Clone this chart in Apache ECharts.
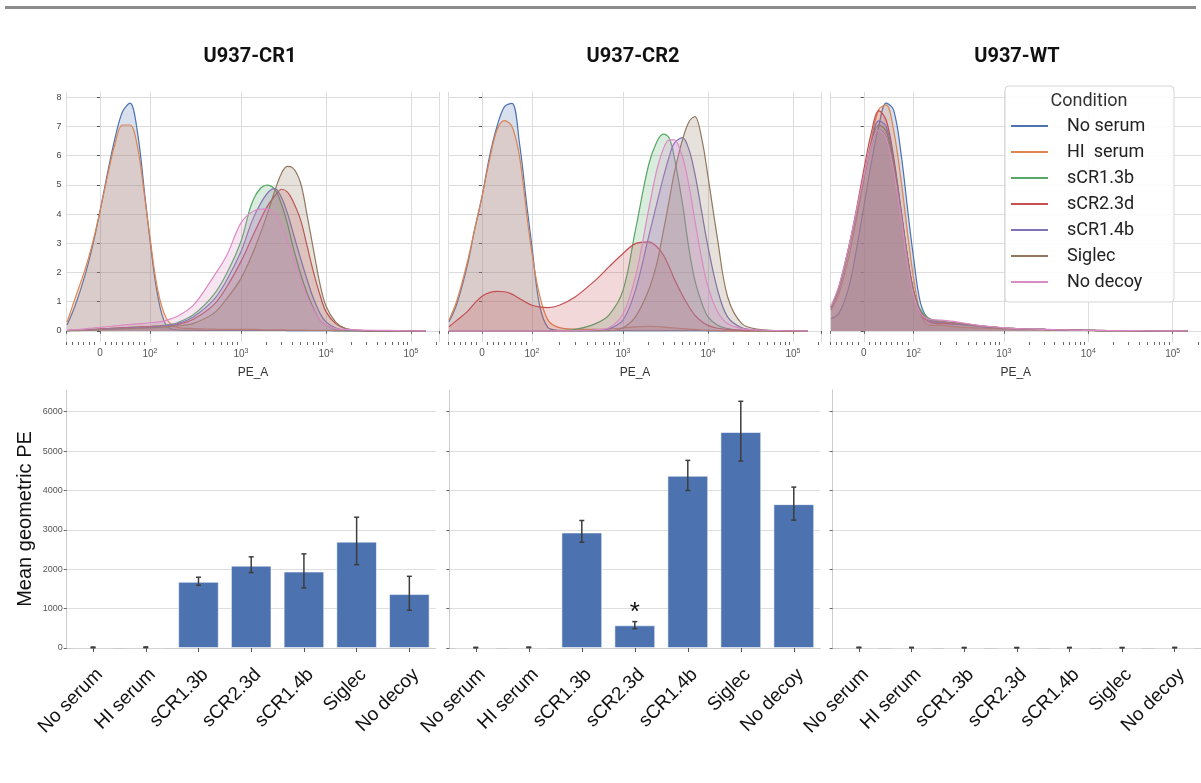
<!DOCTYPE html>
<html><head><meta charset="utf-8">
<script src="https://cdn.jsdelivr.net/npm/echarts@6/dist/echarts.min.js"></script>
<style>html,body{margin:0;padding:0;background:#fff}#chart{width:1201px;height:783px}</style>
</head><body><div id="chart"></div>
<script>
// ---------- DATA ----------
const panelTitles = ['U937-CR1', 'U937-CR2', 'U937-WT'];
const legendNames = ['No serum', 'HI  serum', 'sCR1.3b', 'sCR2.3d', 'sCR1.4b', 'Siglec', 'No decoy'];
const categories = ['No serum', 'HI serum', 'sCR1.3b', 'sCR2.3d', 'sCR1.4b', 'Siglec', 'No decoy'];

// PE_A sample points (fluorescence units) for density curves
const pe_grid = [-66,-50,-30,-15,0,15,30,45,60,75,90,100,120,150,200,300,500,700,1000,1400,2000,2500,3000,3500,4000,5000,6000,7000,8500,10000,13000,17000,25000,40000,70000,150000];

// x-axis tick values (PE units) and labels
const xTickPE = [0, 100, 1000, 10000, 100000];
const xTickLabels = ['0', '10{sup|2}', '10{sup|3}', '10{sup|4}', '10{sup|5}'];
const xMinorPE = [-66.7,-55.6,-44.4,-33.3,-22.2,-11.1,11.1,22.2,33.3,44.4,55.6,66.7,77.8,88.9,
  200,300,400,500,600,700,800,900,2000,3000,4000,5000,6000,7000,8000,9000,
  20000,30000,40000,50000,60000,70000,80000,90000,200000];
const yTopTicks = [0,1,2,3,4,5,6,7,8];
const yBotTicks = [0,1000,2000,3000,4000,5000,6000];

// Density curves, U937-CR1
const cr1_noserum = [0.2,0.85,1.9,2.9,4.1,5.4,6.6,7.5,7.8,6.8,4.6,3.1,1.3,0.2,0.03,0.02,0.02,0.02,0.02,0.02,0.02,0.02,0.02,0.01,0.01,0.01,0.01,0.01,0.01,0.01,0,0,0,0,0,0];
const cr1_hiserum = [0.3,1.1,2.1,3.0,4.1,5.3,6.4,7.05,7.05,6.3,4.5,3.2,1.5,0.45,0.12,0.08,0.06,0.05,0.05,0.05,0.04,0.04,0.04,0.03,0.03,0.03,0.02,0.02,0.02,0.02,0.01,0.01,0,0,0,0];
const cr1_scr13b = [0.01,0.02,0.03,0.05,0.06,0.08,0.09,0.1,0.12,0.13,0.14,0.15,0.17,0.2,0.28,0.55,1.23,1.98,3.07,4.5,4.99,4.85,4.33,3.7,3.0,1.98,1.29,0.83,0.37,0.2,0.05,0.02,0.01,0,0,0];
const cr1_scr23d = [0.01,0.02,0.03,0.05,0.07,0.08,0.1,0.11,0.12,0.13,0.14,0.15,0.16,0.18,0.22,0.4,0.89,1.52,2.38,3.3,4.22,4.62,4.85,4.76,4.5,3.82,2.9,2.1,1.23,0.66,0.25,0.08,0.02,0,0,0];
const cr1_scr14b = [0.01,0.02,0.03,0.04,0.05,0.07,0.08,0.09,0.1,0.11,0.12,0.13,0.15,0.18,0.25,0.48,1.06,1.75,2.72,3.87,4.68,4.87,4.56,4.05,3.47,2.5,1.75,1.17,0.6,0.31,0.1,0.03,0.01,0,0,0];
const cr1_siglec = [0.01,0.01,0.02,0.03,0.04,0.05,0.06,0.07,0.08,0.09,0.1,0.11,0.12,0.14,0.17,0.26,0.6,1.11,1.8,2.72,3.93,4.8,5.4,5.63,5.6,5.08,3.95,2.9,1.6,0.85,0.3,0.08,0.02,0,0,0];
const cr1_nodecoy = [0.02,0.04,0.07,0.1,0.12,0.15,0.17,0.2,0.22,0.24,0.26,0.28,0.3,0.36,0.5,0.88,1.86,2.6,3.7,4.1,4.18,4.0,3.6,3.1,2.6,1.75,1.17,0.77,0.37,0.2,0.08,0.05,0.03,0.02,0.01,0];

// Density curves, U937-CR2
const cr2_noserum = [0.31,0.94,2.2,3.45,4.6,5.97,7.0,7.68,7.79,6.42,4.25,2.88,0.94,0.11,0.02,0.01,0.01,0.01,0.01,0.01,0.01,0.01,0.01,0.01,0.01,0.01,0.01,0.01,0.01,0,0,0,0,0,0,0];
const cr2_hiserum = [0.37,1.05,2.31,3.45,4.6,5.85,6.88,7.2,7.0,5.97,3.9,2.65,1.28,0.37,0.11,0.06,0.05,0.07,0.1,0.14,0.16,0.15,0.13,0.11,0.1,0.08,0.06,0.05,0.03,0.02,0.01,0,0,0,0,0];
const cr2_scr13b = [0,0,0,0,0,0,0,0,0,0,0,0,0,0,0.01,0.05,0.25,0.54,1.39,3.45,5.68,6.48,6.74,6.6,5.97,4.37,2.77,1.74,0.94,0.48,0.19,0.08,0.02,0.01,0,0];
const cr2_scr23d = [0.14,0.37,0.65,0.94,1.19,1.31,1.35,1.34,1.26,1.11,0.96,0.88,0.82,0.8,0.88,1.17,1.74,2.19,2.65,2.99,3.05,2.88,2.59,2.19,1.79,1.22,0.82,0.54,0.31,0.19,0.09,0.05,0.02,0.01,0,0];
const cr2_scr14b = [0,0,0,0,0,0,0,0,0,0,0,0,0,0,0,0.01,0.01,0.07,0.37,1.39,3.22,4.37,5.28,5.97,6.42,6.62,6.19,5.39,4.02,2.88,1.39,0.48,0.11,0.03,0.01,0];
const cr2_siglec = [0,0,0,0,0,0,0,0,0,0,0,0,0,0,0,0,0.01,0.01,0.11,0.48,1.39,2.31,3.45,4.48,5.39,6.54,7.17,7.34,6.54,5.28,3.11,1.17,0.25,0.05,0.01,0];
const cr2_nodecoy = [0,0,0,0,0,0,0,0,0,0,0,0,0,0,0,0.01,0.04,0.11,0.59,1.85,4.14,5.51,6.25,6.54,6.54,5.97,4.94,3.79,2.42,1.51,0.65,0.25,0.08,0.03,0.01,0];

// Density curves, U937-WT
const wt_noserum = [0.42,0.6,1.5,2.77,4.25,5.74,7.0,7.8,7.57,6.08,3.91,2.54,0.94,0.37,0.27,0.23,0.16,0.11,0.09,0.07,0.06,0.05,0.05,0.04,0.04,0.03,0.03,0.03,0.02,0.02,0.01,0.01,0.01,0,0,0];
const wt_hiserum = [0.71,1.28,2.54,3.79,5.17,6.54,7.57,7.74,6.88,5.17,3.11,1.85,0.59,0.19,0.19,0.14,0.1,0.08,0.07,0.05,0.05,0.04,0.04,0.03,0.03,0.03,0.02,0.02,0.02,0.01,0.01,0.01,0,0,0,0];
const wt_scr13b = [0.82,1.5,2.88,4.02,5.22,6.31,6.9,6.65,5.62,4.02,2.31,1.39,0.71,0.42,0.34,0.25,0.18,0.14,0.1,0.08,0.06,0.05,0.05,0.04,0.04,0.03,0.03,0.03,0.02,0.02,0.01,0.01,0.01,0,0,0];
const wt_scr23d = [0.82,1.5,2.88,4.14,5.51,6.77,7.54,7.22,5.97,4.14,2.31,1.39,0.59,0.31,0.25,0.25,0.18,0.14,0.1,0.07,0.06,0.05,0.05,0.04,0.04,0.03,0.03,0.03,0.02,0.02,0.01,0.01,0.01,0,0,0];
const wt_scr14b = [0.76,1.45,2.83,4.02,5.28,6.42,7.19,7.0,5.85,4.14,2.31,1.39,0.65,0.37,0.3,0.27,0.19,0.14,0.1,0.08,0.06,0.05,0.05,0.04,0.04,0.03,0.03,0.03,0.02,0.02,0.01,0.01,0.01,0,0,0];
const wt_siglec = [0.8,1.48,2.85,4.05,5.25,6.4,7.05,6.85,5.75,4.05,2.3,1.38,0.66,0.4,0.32,0.27,0.19,0.14,0.1,0.08,0.06,0.05,0.05,0.04,0.04,0.03,0.03,0.03,0.02,0.02,0.02,0.01,0.01,0.01,0,0];
const wt_nodecoy = [0.85,1.55,2.9,4.1,5.3,6.35,6.88,6.6,5.5,3.9,2.1,1.25,0.6,0.4,0.37,0.31,0.2,0.15,0.11,0.08,0.07,0.06,0.05,0.05,0.04,0.04,0.03,0.03,0.02,0.02,0.02,0.01,0.01,0.01,0,0];

// Mean geometric PE with error-bar limits
const cr1_mean = [15, 18, 1680, 2090, 1940, 2700, 1370];
const cr1_low  = [5, 8, 1593, 1915, 1525, 2115, 960];
const cr1_high = [25, 28, 1797, 2314, 2390, 3320, 1820];
const cr2_mean = [10, 15, 2932, 576, 4373, 5483, 3652];
const cr2_low  = [2, 8, 2686, 491, 4000, 4746, 3246];
const cr2_high = [18, 24, 3237, 670, 4763, 6263, 4085];
const wt_mean  = [12, 10, 8, 8, 9, 8, 10];
const wt_low   = [4, 3, 2, 2, 3, 2, 3];
const wt_high  = [20, 17, 14, 14, 15, 14, 17];
// significance marker: [category index, value]
const cr2_star = [[3, 985]];

// ---------- BUILD ----------
const palette = ['#4c72b0','#dd8452','#55a868','#c44e52','#8172b3','#937860','#da8bc3'];
const densities = [
  [cr1_noserum, cr1_hiserum, cr1_scr13b, cr1_scr23d, cr1_scr14b, cr1_siglec, cr1_nodecoy],
  [cr2_noserum, cr2_hiserum, cr2_scr13b, cr2_scr23d, cr2_scr14b, cr2_siglec, cr2_nodecoy],
  [wt_noserum, wt_hiserum, wt_scr13b, wt_scr23d, wt_scr14b, wt_siglec, wt_nodecoy]
];
const means = [cr1_mean, cr2_mean, wt_mean];
const lows = [cr1_low, cr2_low, wt_low];
const highs = [cr1_high, cr2_high, wt_high];

// logicle-like display transform (linear near 0, log above)
function pe2d(v) {
  if (v <= 100) return v * 0.5;
  if (v <= 1000) return 50 + 91 * Math.log10(v / 100);
  return 141 + 85 * Math.log10(v / 1000);
}
const XMIN = -33.5, XMAX = 339.5;
const majorD = xTickPE.map(pe2d);
const minorD = xMinorPE.map(pe2d).filter(d => d >= XMIN && d <= XMAX);

const topLeft = [66.5, 448.5, 830.5];
const topW = 373;
const botLeft = [66.7, 449.3, 832.6];
const botW = [369, 371, 369];
const titleX = [250, 633, 1017];
const FONT = '"Liberation Sans", Arial, sans-serif';

const grids = [], xAxes = [], yAxes = [], series = [];
for (let p = 0; p < 3; p++) {
  grids.push({ left: topLeft[p], top: 92, width: topW, height: 250 });
}
for (let p = 0; p < 3; p++) {
  grids.push({ left: botLeft[p], top: 390, width: botW[p], height: 258 });
}
// top major x axes (0..2)
for (let p = 0; p < 3; p++) {
  xAxes.push({
    gridIndex: p, type: 'value', min: XMIN, max: XMAX, position: 'bottom',
    name: 'PE_A', nameLocation: 'middle', nameGap: 25,
    nameTextStyle: { fontSize: 12, color: '#333', fontFamily: FONT },
    axisLine: { show: false },
    axisTick: { show: true, length: 3, customValues: [XMIN].concat(majorD, [XMAX]), lineStyle: { color: '#666' } },
    axisLabel: {
      customValues: majorD, margin: 6, fontSize: 10, color: '#555', fontFamily: FONT,
      formatter: function (val) {
        for (let i = 0; i < majorD.length; i++) if (Math.abs(majorD[i] - val) < 0.01) return xTickLabels[i];
        return '';
      },
      rich: { sup: { fontSize: 7, color: '#555', verticalAlign: 'top', padding: [0, 0, 5, 0] } }
    },
    splitLine: { show: true, lineStyle: { color: '#dcdcdc', width: 1 } }
  });
}
// top minor x axes (3..5)
for (let p = 0; p < 3; p++) {
  xAxes.push({
    gridIndex: p, type: 'value', min: XMIN, max: XMAX, position: 'bottom',
    axisLine: { show: false },
    axisTick: { show: true, length: 3, customValues: minorD, lineStyle: { color: '#666' } },
    axisLabel: { show: false }, splitLine: { show: false }
  });
}
// bottom category axes (6..8)
for (let p = 0; p < 3; p++) {
  xAxes.push({
    gridIndex: 3 + p, type: 'category', data: categories,
    axisLine: { show: true, lineStyle: { color: '#cccccc' } },
    axisTick: { show: true, alignWithLabel: true, length: 4, lineStyle: { color: '#555' } },
    axisLabel: { rotate: 45, fontSize: 19, color: '#111', margin: 17, verticalAlign: 'top', fontFamily: FONT, interval: 0 }
  });
}
// top y axes (0..2)
for (let p = 0; p < 3; p++) {
  yAxes.push({
    gridIndex: p, type: 'value', min: -0.38, max: 8.18,
    axisLine: { show: false },
    axisTick: { show: true, length: 3, customValues: yTopTicks, lineStyle: { color: '#555' } },
    axisLabel: { show: p === 0, customValues: yTopTicks, fontSize: 9, color: '#444', margin: 5, fontFamily: FONT },
    splitLine: { show: true, lineStyle: { color: '#dcdcdc', width: 1 } }
  });
}
// bottom y axes (3..5)
for (let p = 0; p < 3; p++) {
  yAxes.push({
    gridIndex: 3 + p, type: 'value', min: 0, max: 6550,
    name: p === 0 ? 'Mean geometric PE' : '', nameLocation: 'middle', nameGap: 31,
    nameTextStyle: { fontSize: 20, color: '#111', fontFamily: FONT },
    axisLine: { show: true, lineStyle: { color: '#cccccc' } },
    axisTick: { show: true, length: 3, customValues: yBotTicks, lineStyle: { color: '#666' } },
    axisLabel: { show: p === 0, customValues: yBotTicks, fontSize: 9, color: '#555', margin: 4, fontFamily: FONT,
      formatter: function (v) { return String(Math.round(v)); } },
    splitLine: { show: true, lineStyle: { color: '#dedede', width: 1 } }
  });
}
// density series
for (let p = 0; p < 3; p++) {
  for (let c = 0; c < 7; c++) {
    const arr = densities[p][c];
    series.push({
      type: 'line', name: legendNames[c], xAxisIndex: p, yAxisIndex: p,
      data: pe_grid.map((v, i) => [pe2d(v), arr[i]]),
      smooth: 0.35, symbol: 'none', silent: true,
      color: palette[c],
      lineStyle: { width: 1.2, color: palette[c] },
      areaStyle: { color: palette[c], opacity: 0.22 },
      z: 2 + c * 0.01
    });
  }
}
// bars + error bars
for (let p = 0; p < 3; p++) {
  series.push({
    type: 'bar', xAxisIndex: 6 + p, yAxisIndex: 3 + p, data: means[p], barWidth: '77%',
    itemStyle: { color: '#4c72b0', borderColor: 'rgba(255,255,255,0.55)', borderWidth: 1 },
    silent: true
  });
  series.push({
    type: 'custom', xAxisIndex: 6 + p, yAxisIndex: 3 + p, z: 5, silent: true,
    data: categories.map((c, i) => [i, lows[p][i], highs[p][i]]),
    encode: { x: 0, y: [1, 2] },
    renderItem: function (params, api) {
      const x = api.value(0);
      const lo = api.coord([x, api.value(1)]);
      const hi = api.coord([x, api.value(2)]);
      const w = 2.5;
      const st = { stroke: '#3d3d3d', lineWidth: 1.5 };
      return { type: 'group', children: [
        { type: 'line', shape: { x1: lo[0], y1: lo[1], x2: hi[0], y2: hi[1] }, style: st },
        { type: 'line', shape: { x1: lo[0] - w, y1: lo[1], x2: lo[0] + w, y2: lo[1] }, style: st },
        { type: 'line', shape: { x1: hi[0] - w, y1: hi[1], x2: hi[0] + w, y2: hi[1] }, style: st }
      ] };
    }
  });
}
// significance asterisk
series.push({
  type: 'custom', xAxisIndex: 7, yAxisIndex: 4, z: 6, silent: true,
  data: cr2_star, encode: { x: 0, y: 1 },
  renderItem: function (params, api) {
    const pt = api.coord([api.value(0), api.value(1)]);
    return { type: 'text', x: pt[0], y: pt[1] + 4,
      style: { text: '*', fontSize: 26, fill: '#111', fontFamily: FONT, align: 'center', verticalAlign: 'middle' } };
  }
});

const titles = panelTitles.map((t, p) => ({
  text: t, left: titleX[p], top: 47, textAlign: 'center', padding: 0,
  textStyle: { fontSize: 20, fontWeight: 'bold', color: '#111', fontFamily: 'Roboto' }
}));
titles.push({
  text: 'Condition', left: 1089, top: 92, textAlign: 'center', padding: 0, z: 22,
  textStyle: { fontSize: 18, fontWeight: 'normal', color: '#333', fontFamily: 'Roboto' }
});

const option = {
  animation: false,
  backgroundColor: '#ffffff',
  textStyle: { fontFamily: FONT },
  title: titles,
  grid: grids,
  xAxis: xAxes,
  yAxis: yAxes,
  legend: {
    data: legendNames, orient: 'vertical', left: 1005, top: 86, padding: [27, 8, 7, 6],
    itemWidth: 37, itemHeight: 2, itemGap: 0, icon: 'rect', z: 21, selectedMode: false,
    textStyle: { fontSize: 18, color: '#222', fontFamily: 'Roboto', lineHeight: 26, padding: [0, 0, 0, 14] }
  },
  graphic: { elements: [
    { type: 'rect', shape: { x: 5, y: 6, width: 1191, height: 3 }, style: { fill: '#8c8c8c' }, z: 30 },
    { type: 'rect', shape: { x: 1005, y: 86, width: 169, height: 216, r: 4 }, style: { fill: 'rgba(255,255,255,0.88)', stroke: '#d6d6d6', lineWidth: 1 }, z: 15 }
  ] },
  series: series
};
const chart = echarts.init(document.getElementById('chart'));
chart.setOption(option);
</script>
</body></html>
